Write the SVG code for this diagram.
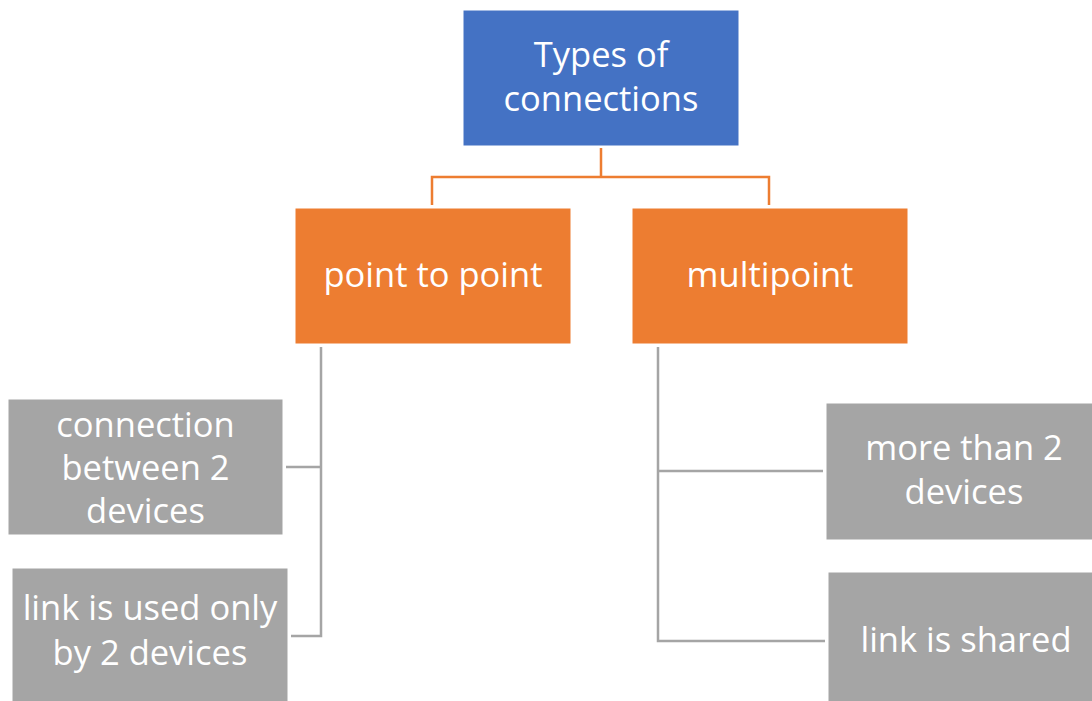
<svg xmlns="http://www.w3.org/2000/svg" width="1092" height="701" viewBox="0 0 1092 701">
<style>
.box{stroke:#ffffff;stroke-width:1}
.blue{fill:#4472C4}
.orange{fill:#ED7D31}
.gray{fill:#A5A5A5}
.t{font-family:"Open Sans","Noto Sans","Liberation Sans",sans-serif;font-size:34.5px;fill:#ffffff;text-anchor:middle}
.co{fill:none;stroke:#ED7D31;stroke-width:2.5}
.cg{fill:none;stroke:#A5A5A5;stroke-width:2.5}
</style>
<rect width="1092" height="701" fill="#ffffff"/>
<g id="connectors">
<path class="co" d="M601,148 V177 H432 V205 M601,177 H769 V205"/>
<path class="cg" d="M321,347 V636 H291 M321,467 H286"/>
<path class="cg" d="M658,347 V641 H825 M658,471 H823"/>
</g>
<g id="root">
<rect class="box blue" x="463" y="10" width="276" height="136"/>
<text class="t" x="601" y="67">Types of</text>
<text class="t" x="601" y="111">connections</text>
</g>
<g id="p2p">
<rect class="box orange" x="295" y="208" width="276" height="136"/>
<text class="t" x="433" y="287">point to point</text>
</g>
<g id="multipoint">
<rect class="box orange" x="632" y="208" width="276" height="136"/>
<text class="t" x="770" y="287">multipoint</text>
</g>
<g id="p2p-a">
<rect class="box gray" x="8" y="399" width="275" height="136"/>
<text class="t" x="145.5" y="437">connection</text>
<text class="t" x="145.5" y="480">between 2</text>
<text class="t" x="145.5" y="523">devices</text>
</g>
<g id="p2p-b">
<rect class="box gray" x="12" y="568" width="276" height="136"/>
<text class="t" x="150" y="620">link is used only</text>
<text class="t" x="150" y="665">by 2 devices</text>
</g>
<g id="mp-a">
<rect class="box gray" x="826" y="403" width="276" height="137"/>
<text class="t" x="964" y="460">more than 2</text>
<text class="t" x="964" y="504">devices</text>
</g>
<g id="mp-b">
<rect class="box gray" x="828" y="572" width="276" height="136"/>
<text class="t" x="966" y="652">link is shared</text>
</g>
</svg>
